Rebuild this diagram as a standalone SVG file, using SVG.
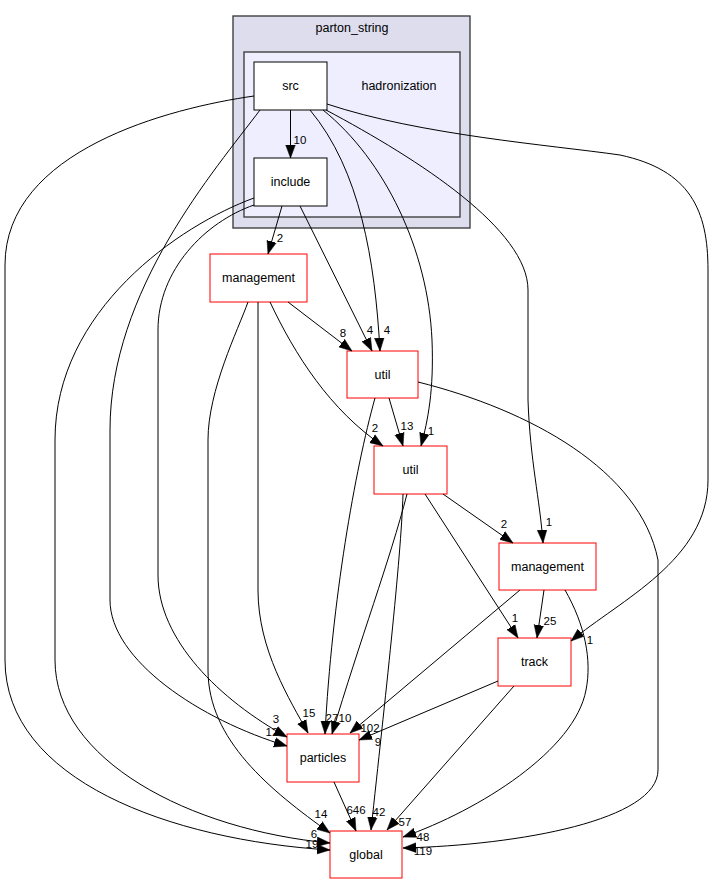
<svg xmlns="http://www.w3.org/2000/svg" width="715" height="884" viewBox="0 0 715 884">
<style>
  .nl { font-family: "Liberation Sans", Arial, sans-serif; font-size: 12.5px; text-anchor: middle; fill: #000; }
  .el { font-family: "Liberation Sans", Arial, sans-serif; font-size: 11.5px; text-anchor: middle; fill: #000; }
  .e { fill: none; stroke: #000; stroke-width: 1; marker-end: url(#ah); }
  .nb { fill: #fff; stroke: #000; stroke-width: 1; }
  .nr { fill: #fff; stroke: #ff0000; stroke-width: 1; }
</style>
<defs>
  <marker id="ah" markerUnits="userSpaceOnUse" markerWidth="14" markerHeight="12" refX="13" refY="5" orient="auto" viewBox="0 0 14 10">
    <path d="M0,0.2 L13,5 L0,9.8 z" fill="#000" stroke="#000" stroke-width="0.5"/>
  </marker>
</defs>
<rect width="715" height="884" fill="#fff"/>

<g id="cluster_parton_string">
  <rect x="233" y="16" width="237" height="212" fill="#ddddee" stroke="#404040" stroke-width="1.4"/>
  <text class="nl" x="352" y="32">parton_string</text>
</g>
<g id="cluster_hadronization">
  <rect x="244" y="52" width="216" height="165" fill="#eeeeff" stroke="#404040" stroke-width="1.4"/>
  <text class="nl" x="399" y="90">hadronization</text>
</g>

<g id="node_src">
  <rect class="nb" x="254" y="62" width="73" height="48"/>
  <text class="nl" x="290.5" y="90">src</text>
</g>
<g id="node_include">
  <rect class="nb" x="254" y="158" width="73" height="48"/>
  <text class="nl" x="290.5" y="186">include</text>
</g>
<g id="node_management">
  <rect class="nr" x="210" y="254" width="97" height="48"/>
  <text class="nl" x="258.5" y="282">management</text>
</g>
<g id="node_util1">
  <rect class="nr" x="347" y="351" width="71" height="47"/>
  <text class="nl" x="382.5" y="378.5">util</text>
</g>
<g id="node_util2">
  <rect class="nr" x="374" y="446" width="73" height="48"/>
  <text class="nl" x="410.5" y="474">util</text>
</g>
<g id="node_management2">
  <rect class="nr" x="499" y="543" width="97" height="47"/>
  <text class="nl" x="547.5" y="570.5">management</text>
</g>
<g id="node_track">
  <rect class="nr" x="498" y="638" width="73" height="48"/>
  <text class="nl" x="534.5" y="666">track</text>
</g>
<g id="node_particles">
  <rect class="nr" x="287" y="734" width="72" height="48"/>
  <text class="nl" x="323" y="762">particles</text>
</g>
<g id="node_global">
  <rect class="nr" x="330" y="831" width="72" height="47"/>
  <text class="nl" x="366" y="858.5">global</text>
</g>

<g id="connectors">
  <!-- src edges -->
  <path class="e" d="M290.5,110 L290.5,158"/>
  <text class="el" x="300" y="144">10</text>

  <path class="e" d="M254,96 C170,108 5,150 5,265 L5,660 C5,780 170,840 330,850"/>
  <text class="el" x="312" y="848">19</text>

  <path class="e" d="M260,110 C215,170 110,290 110,430 L110,600 C110,660 200,720 287,746"/>
  <text class="el" x="272" y="736">12</text>

  <path class="e" d="M310,110 C360,170 375,260 380,351"/>
  <text class="el" x="387" y="334">4</text>

  <path class="e" d="M323,110 C385,160 428,250 432,340 C434,390 428,420 421,446"/>
  <text class="el" x="431" y="435">1</text>

  <path class="e" d="M326,110 C420,160 528,230 528,290 L528,400 C530,460 540,500 543,543"/>
  <text class="el" x="549" y="526">1</text>

  <path class="e" d="M327,104 C420,135 550,145 620,155 C690,170 708,210 708,270 L708,480 C708,560 620,600 571,641"/>
  <text class="el" x="590" y="644">1</text>

  <!-- include edges -->
  <path class="e" d="M282,206 L268,254"/>
  <text class="el" x="280" y="242">2</text>

  <path class="e" d="M300,206 L372,351"/>
  <text class="el" x="370" y="334">4</text>

  <path class="e" d="M254,198 C180,225 55,310 55,440 L55,660 C55,760 190,830 330,843"/>
  <text class="el" x="314" y="838">6</text>

  <path class="e" d="M254,205 C205,222 158,270 158,330 L158,575 C158,640 220,700 287,737"/>
  <text class="el" x="276" y="723">3</text>

  <!-- management edges -->
  <path class="e" d="M288,302 L352,351"/>
  <text class="el" x="343" y="337">8</text>

  <path class="e" d="M270,302 C295,355 330,410 383,446"/>
  <text class="el" x="375" y="432">2</text>

  <path class="e" d="M258,302 L258,590 C258,650 290,700 308,733"/>
  <text class="el" x="309" y="717">15</text>

  <path class="e" d="M248,302 C238,330 208,390 208,440 L208,670 C208,740 270,790 330,833"/>
  <text class="el" x="321" y="818">14</text>

  <!-- util1 edges -->
  <path class="e" d="M389,398 L403,446"/>
  <text class="el" x="407" y="430">13</text>

  <path class="e" d="M375,398 C355,470 332,600 325,734"/>
  <text class="el" x="332" y="722">27</text>

  <path class="e" d="M418,382 C530,410 640,470 658,560 L658,770 C658,820 520,845 403,848"/>
  <text class="el" x="423" y="855">119</text>

  <!-- util2 edges -->
  <path class="e" d="M443,494 L513,543"/>
  <text class="el" x="504" y="528">2</text>

  <path class="e" d="M425,494 L518,638"/>
  <text class="el" x="515" y="622">1</text>

  <path class="e" d="M407,494 C390,560 360,640 332,734"/>
  <text class="el" x="345" y="722">10</text>

  <path class="e" d="M403,494 C401,560 385,700 371,830"/>
  <text class="el" x="379" y="816">42</text>

  <!-- management2 edges -->
  <path class="e" d="M544,590 L537,638"/>
  <text class="el" x="550" y="625">25</text>

  <path class="e" d="M520,590 L350,733"/>
  <text class="el" x="370" y="732">102</text>

  <path class="e" d="M565,590 C585,625 592,660 586,690 C575,750 480,810 403,837"/>
  <text class="el" x="423" y="841">48</text>

  <!-- track edges -->
  <path class="e" d="M498,681 L359,740"/>
  <text class="el" x="378" y="746">9</text>

  <path class="e" d="M514,686 L387,830"/>
  <text class="el" x="405" y="826">57</text>

  <!-- particles edges -->
  <path class="e" d="M334,782 L356,831"/>
  <text class="el" x="356" y="814">646</text>
</g>
</svg>
